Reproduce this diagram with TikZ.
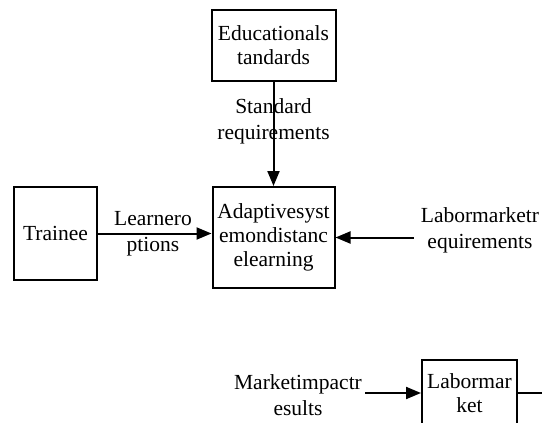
\documentclass[tikz,border=0pt]{standalone}
\usepackage{fontspec}
\setmainfont{Liberation Serif}
\usetikzlibrary{arrows.meta}
\begin{document}
\begin{tikzpicture}[x=1pt,y=-1pt,
    block/.style={draw,line width=2pt,align=center,inner sep=2pt,font=\fontsize{21.5}{24}\selectfont},
    lbl/.style={align=center,inner sep=3pt,font=\fontsize{21.5}{26}\selectfont},
    flow/.style={line width=2pt,-{Triangle[length=15pt,width=12pt]}}]
  \clip (0,0) rectangle (542,423);
  % boxes
  \node[block,minimum width=124pt,minimum height=71pt] (edu) at (273.5,45.5) {Educationals\\tandards};
  \node[block,minimum width=122pt,minimum height=101pt] (ada) at (273.5,237.5) {Adaptivesyst\\emondistanc\\elearning};
  \node[block,minimum width=83pt,minimum height=93pt] (trn) at (55.5,233.5) {Trainee};
  \node[block,minimum width=95pt,minimum height=66pt] (lm) at (469.5,393) {Labormar\\ket};
  % labels
  \node[lbl] (std) at (273.5,121) {Standard\\requirements};
  \node[lbl] (lrn) at (153,234) {Learnero\\ptions};
  \node[lbl] (lmr) at (480,230) {Labormarketr\\equirements};
  \node[lbl] (mir) at (298,395) {Marketimpactr\\esults};
  \coordinate (out) at (542,393);
  % connectors
  \draw[flow] (edu.south) -- (ada.north);
  \draw[flow] (trn.east) -- (trn.east -| ada.west);
  \draw[flow] ([xshift=-4pt]lmr.west |- ada.east) -- (ada.east);
  \draw[flow] (mir.east |- lm.west) -- (lm.west);
  \draw[line width=2pt] (lm.east) -- (out);
\end{tikzpicture}
\end{document}
